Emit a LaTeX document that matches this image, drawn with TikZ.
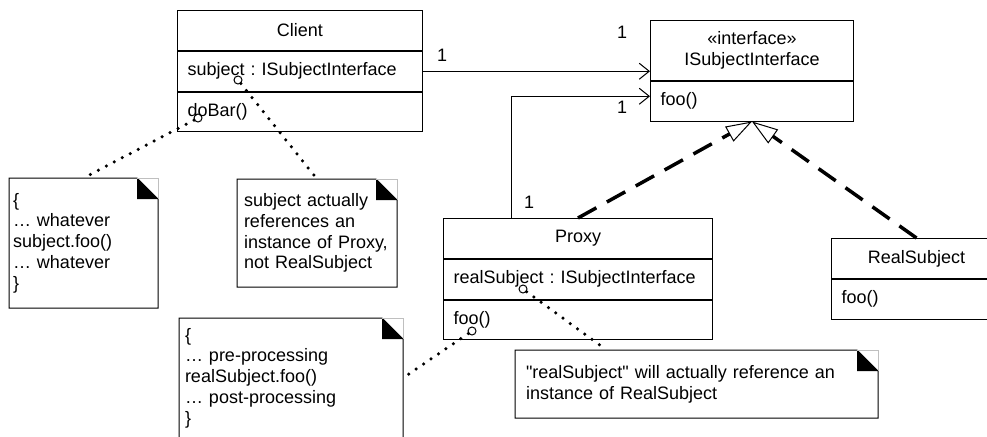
\documentclass[tikz,border=0pt]{standalone}
\usepackage{fontspec}
\setmainfont{Liberation Sans}[Ligatures=TeXOff]
\usetikzlibrary{positioning, arrows.meta, calc}

\begin{document}
\begin{tikzpicture}[
    x=1pt, y=-1pt,
    line width=1pt,
    font=\fontsize{18}{20.7}\selectfont\frenchspacing,
    classname/.style={draw, rectangle, inner xsep=10pt, inner ysep=0pt, text width=#1pt, align=center, minimum height=40pt},
    members/.style={draw, rectangle, inner xsep=10pt, inner ysep=0pt, text width=#1pt, align=left, minimum height=39.5pt, anchor=north},
    notebox/.style={rectangle, inner ysep=0pt, outer sep=0pt, align=left, anchor=north west},
    linkend/.style={draw, circle, inner sep=0pt, minimum size=8pt},
    notelink/.style={line width=3.5pt, line cap=round, dash pattern=on 0pt off 9pt},
    assoc/.style={-{Straight Barb[length=10pt, width=16pt]}},
    realize/.style={line width=3.5pt, dash pattern=on 21pt off 12pt, -{Triangle[open, length=26pt, width=17pt, line width=1pt]}},
    mult/.style={inner sep=0pt}
]
    \useasboundingbox (0,0) rectangle (987,436);

    % Classes
    \node[classname=225, anchor=north west] (client) at (177,10) {Client};
    \node[members=225] (clientattr) at (client.south) {subject : ISubjectInterface};
    \node[members=225] (clientop) at (clientattr.south) {doBar()};

    \node[classname=183, anchor=north west, minimum height=60pt] (iface) at (650,20) {«interface»\\ISubjectInterface};
    \node[members=183] (ifaceop) at (iface.south) {foo()};

    \node[classname=249, anchor=north west] (proxy) at (443,218) {Proxy};
    \node[members=249] (proxyattr) at (proxy.south) {realSubject : ISubjectInterface};
    \node[members=249] (proxyop) at (proxyattr.south) {foo()};

    \node[classname=150, anchor=north west] (real) at (831,238) {RealSubject};
    \node[members=150] (realop) at (real.south) {foo()};

    % Notes
    \node[notebox, inner xsep=4pt, text width=141pt, minimum height=130pt] (whatnote) at (9,178)
        {\{\\… whatever\\subject.foo()\\… whatever\\\}};
    \node[notebox, inner xsep=7pt, text width=146pt, minimum height=108pt] (refnote) at (237,179)
        {subject actually\\references an\\instance of Proxy,\\not RealSubject};
    \node[notebox, inner xsep=6pt, text width=212pt, minimum height=120pt] (procnote) at (179,318)
        {\{\\… pre-processing\\realSubject.foo()\\… post-processing\\\}};
    \node[notebox, inner xsep=11pt, text width=341pt, minimum height=68pt] (realnote) at (515,350)
        {"realSubject" will actually reference an\\instance of RealSubject};

    \foreach \n in {whatnote, refnote, procnote, realnote}{
        \draw (\n.north west) -- ([xshift=-21pt]\n.north east) -- ([yshift=-21pt]\n.north east)
            -- (\n.south east) -- (\n.south west) -- cycle;
        \fill ([xshift=-21pt]\n.north east) -- ([xshift=-21pt, yshift=-21pt]\n.north east)
            -- ([yshift=-21pt]\n.north east) -- cycle;
        \draw[black!25] ([xshift=-21pt]\n.north east) -- (\n.north east) -- ([yshift=-21pt]\n.north east);
    }

    % Note links
    \node[linkend] (lk1) at (238,80) {};
    \node[linkend] (lk2) at (198,118) {};
    \node[linkend] (lk3) at (523,289) {};
    \node[linkend] (lk4) at (472,331) {};
    \draw[notelink] (lk1) -- (refnote.north);
    \draw[notelink] (lk2) -- (whatnote.north);
    \draw[notelink] (lk3) -- ([xshift=-90pt]realnote.north);
    \draw[notelink] (lk4) -- (procnote.east);

    % Associations
    \draw[assoc] (clientattr.east) -- (clientattr.east -| iface.west);
    \draw[assoc] ([xshift=-66.5pt]proxy.north) |- ([yshift=5pt]ifaceop.west);
    \node[mult] (m1) at (442,55) {1};
    \node[mult] (m2) at (622,32) {1};
    \node[mult] (m3) at (622,107) {1};
    \node[mult] (m4) at (529,202) {1};

    % Realizations
    \draw[realize] (proxy.north) -- (ifaceop.south);
    \draw[realize] (real.north) -- (ifaceop.south);

\end{tikzpicture}
\end{document}
